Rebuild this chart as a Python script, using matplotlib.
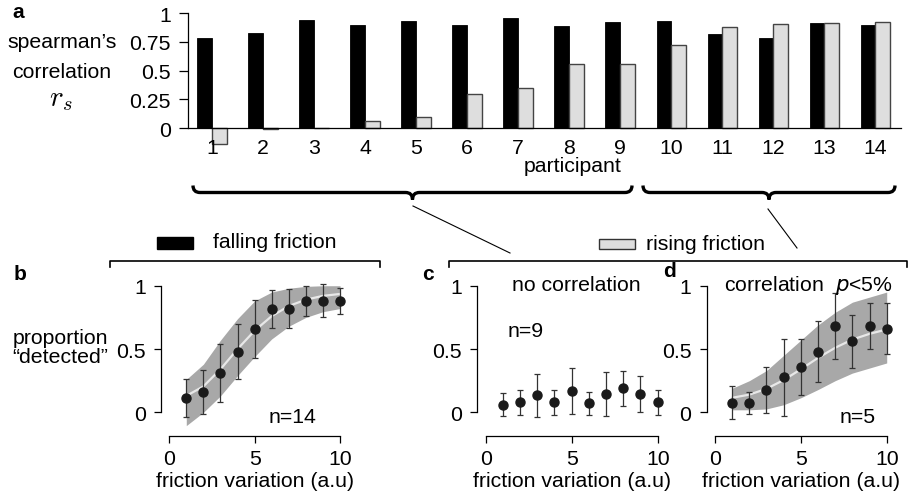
import matplotlib.pyplot as plt
import numpy as np
from matplotlib.path import Path
from matplotlib.patches import PathPatch, Rectangle
from matplotlib.lines import Line2D

plt.rcParams['font.family'] = ['Liberation Sans', 'DejaVu Sans']
plt.rcParams['font.size'] = 15.3
plt.rcParams['axes.linewidth'] = 0.9

W, H = 909, 502

# panel a: spearman's correlation for each participant
participants = np.arange(1, 15)
falling_rs = [0.78, 0.83, 0.94, 0.90, 0.93, 0.90, 0.96, 0.89, 0.92, 0.93, 0.82, 0.78, 0.913, 0.90]
rising_rs = [-0.136, -0.01, 0.0, 0.064, 0.098, 0.30, 0.35, 0.56, 0.56, 0.72, 0.876, 0.905, 0.913, 0.92]

friction = np.arange(1, 11)

# panel b: falling friction, all participants
b_mean = [0.11, 0.16, 0.31, 0.48, 0.66, 0.82, 0.82, 0.88, 0.88, 0.88]
b_err = [0.15, 0.175, 0.23, 0.215, 0.23, 0.15, 0.155, 0.12, 0.13, 0.10]
b_fit = [0.13, 0.205, 0.34, 0.50, 0.645, 0.76, 0.84, 0.89, 0.92, 0.935]
b_lo = [-0.105, 0.0, 0.13, 0.29, 0.44, 0.58, 0.68, 0.75, 0.795, 0.82]
b_hi = [0.26, 0.38, 0.57, 0.74, 0.88, 0.95, 0.98, 0.995, 1.0, 1.0]

# panel c: rising friction, no correlation
c_mean = [0.06, 0.08, 0.135, 0.08, 0.17, 0.07, 0.146, 0.19, 0.146, 0.08]
c_err = [0.09, 0.10, 0.17, 0.10, 0.18, 0.09, 0.175, 0.14, 0.14, 0.10]

# panel d: rising friction, correlation p<5%
d_mean = [0.075, 0.075, 0.175, 0.277, 0.356, 0.48, 0.68, 0.56, 0.68, 0.66]
d_err = [0.13, 0.085, 0.18, 0.305, 0.22, 0.24, 0.26, 0.21, 0.18, 0.20]
d_fit = [0.115, 0.14, 0.186, 0.255, 0.34, 0.43, 0.51, 0.575, 0.62, 0.655]
d_lo = [0.02, 0.02, 0.027, 0.06, 0.115, 0.18, 0.25, 0.31, 0.35, 0.39]
d_hi = [0.19, 0.25, 0.33, 0.45, 0.57, 0.69, 0.79, 0.87, 0.91, 0.95]


def fr(x, y):
    return x / W, 1 - y / H


def axes_px(l, t, r, b):
    return fig.add_axes([l / W, 1 - b / H, (r - l) / W, (b - t) / H])


fig = plt.figure(figsize=(9.09, 5.02), dpi=100)

# ---- panel a
ax = axes_px(188, 14, 901, 146.6)
bw = 0.29
ax.bar(participants - bw / 2, falling_rs, bw, color='black', edgecolor='black', linewidth=0.6)
ax.bar(participants + bw / 2, rising_rs, bw, color='#dedede', edgecolor='#444444', linewidth=1.0)
ax.set_xlim(0.53, 14.5)
ax.set_ylim(-0.15, 1.0)
ax.spines[['top', 'right']].set_visible(False)
ax.spines['bottom'].set_position(('data', 0))
ax.spines['left'].set_bounds(0, 1)
ax.set_yticks([0, 0.25, 0.5, 0.75, 1])
ax.set_yticklabels(['0', '0.25', '0.5', '0.75', '1'])
ax.set_xticks(participants)
ax.tick_params(axis='y', length=6.5, width=0.9, pad=6)
ax.tick_params(axis='x', length=0, pad=7)
ax.set_xlabel('participant')
ax.xaxis.set_label_coords(0.54, -0.075)
ax.patch.set_visible(False)

fig.text(*fr(62, 42), 'spearman’s', ha='center', va='center')
fig.text(*fr(62, 72), 'correlation', ha='center', va='center')
fig.text(*fr(61, 99), r'$r_s$', ha='center', va='center', math_fontfamily='cm', fontsize=21)

# ---- panels b, c, d
ax_b = axes_px(161, 280.4, 348.6, 437.4)
ax_c = axes_px(477.4, 280.4, 666.3, 437.4)
ax_d = axes_px(706.7, 280.4, 895.3, 437.4)

for a in (ax_b, ax_c, ax_d):
    a.set_xlim(-0.48, 10.5)
    a.set_ylim(-0.19, 1.05)
    a.spines[['top', 'right']].set_visible(False)
    a.spines['left'].set_bounds(0, 1)
    a.spines['bottom'].set_bounds(0, 10)
    a.set_xticks([0, 5, 10])
    a.set_yticks([0, 0.5, 1])
    a.set_yticklabels(['0', '0.5', '1'])
    a.tick_params(length=5, width=0.9, direction='out')
    a.tick_params(axis='y', pad=6)
    a.tick_params(axis='x', pad=4)
    a.set_xlabel('friction variation (a.u)', labelpad=2)
    a.patch.set_visible(False)

band = '#a8a8a8'
ax_b.fill_between(friction, b_lo, b_hi, color=band, lw=0)
ax_b.plot(friction, b_fit, color='#e8e8e8', lw=1.6)
ax_b.errorbar(friction, b_mean, yerr=b_err, fmt='o', color='#1a1a1a', ecolor='#333333',
              elinewidth=0.9, capsize=2.2, capthick=0.9, markersize=6.5)

ax_c.errorbar(friction, c_mean, yerr=c_err, fmt='o', color='#1a1a1a', ecolor='#333333',
              elinewidth=0.9, capsize=2.2, capthick=0.9, markersize=6.5)

ax_d.fill_between(friction, d_lo, d_hi, color=band, lw=0)
ax_d.plot(friction, d_fit, color='#e8e8e8', lw=1.6)
ax_d.errorbar(friction, d_mean, yerr=d_err, fmt='o', color='#1a1a1a', ecolor='#333333',
              elinewidth=0.9, capsize=2.2, capthick=0.9, markersize=6.5)

ax_b.text(7.2, -0.03, 'n=14', ha='center', va='center')
ax_c.text(2.3, 0.645, 'n=9', ha='center', va='center')
ax_c.text(5.27, 1.01, 'no correlation', ha='center', va='center')
ax_d.text(5.47, 1.01, 'correlation  $p$<5%', ha='center', va='center', math_fontfamily='dejavusans')
ax_d.text(8.3, -0.03, 'n=5', ha='center', va='center')

fig.text(*fr(60, 348), 'proportion\n“detected”', ha='center', va='center', linespacing=1.05)

# panel letters
for lab, (x, y) in zip('abcd', [(18, 13), (20, 275), (428, 275), (670, 272)]):
    fig.text(*fr(x, y), lab, ha='center', va='center', fontweight='bold', fontsize=15)

# legend
fig.patches.append(Rectangle(fr(157, 250), 36 / W, 12 / H, transform=fig.transFigure,
                             facecolor='black', edgecolor='black'))
fig.text(*fr(213, 243), 'falling friction', va='center')
fig.patches.append(Rectangle(fr(599, 250), 36 / W, 10 / H, transform=fig.transFigure,
                             facecolor='#dedede', edgecolor='#333333', lw=1))
fig.text(*fr(646, 244), 'rising friction', va='center')

# brackets over panels
for x0, x1 in [(110, 380), (449, 907)]:
    xs, ys = zip(fr(x0, 268), fr(x0, 261.5), fr(x1, 261.5), fr(x1, 268))
    fig.add_artist(Line2D(xs, ys, color='black', lw=1.2, transform=fig.transFigure))

# connector lines
for (x0, y0), (x1, y1) in [((413, 207), (510, 254)), ((768, 210), (797, 249))]:
    xs, ys = zip(fr(x0, y0), fr(x1, y1))
    fig.add_artist(Line2D(xs, ys, color='black', lw=0.8, transform=fig.transFigure))


# curly braces grouping participants
def brace(x0, x1, y=193.5, h=7):
    xm = (x0 + x1) / 2
    verts = [(x0, y - h), (x0, y), (x0 + h, y),
             (xm - h, y), (xm, y), (xm, y + h),
             (xm, y), (xm + h, y),
             (x1 - h, y), (x1, y), (x1, y - h)]
    codes = [Path.MOVETO, Path.CURVE3, Path.CURVE3,
             Path.LINETO, Path.CURVE3, Path.CURVE3,
             Path.CURVE3, Path.CURVE3,
             Path.LINETO, Path.CURVE3, Path.CURVE3]
    p = Path([fr(*v) for v in verts], codes)
    fig.add_artist(PathPatch(p, fill=False, lw=2.4, edgecolor='black', transform=fig.transFigure))


brace(193, 632)
brace(643, 895)

fig.savefig('out.png', dpi=100)
